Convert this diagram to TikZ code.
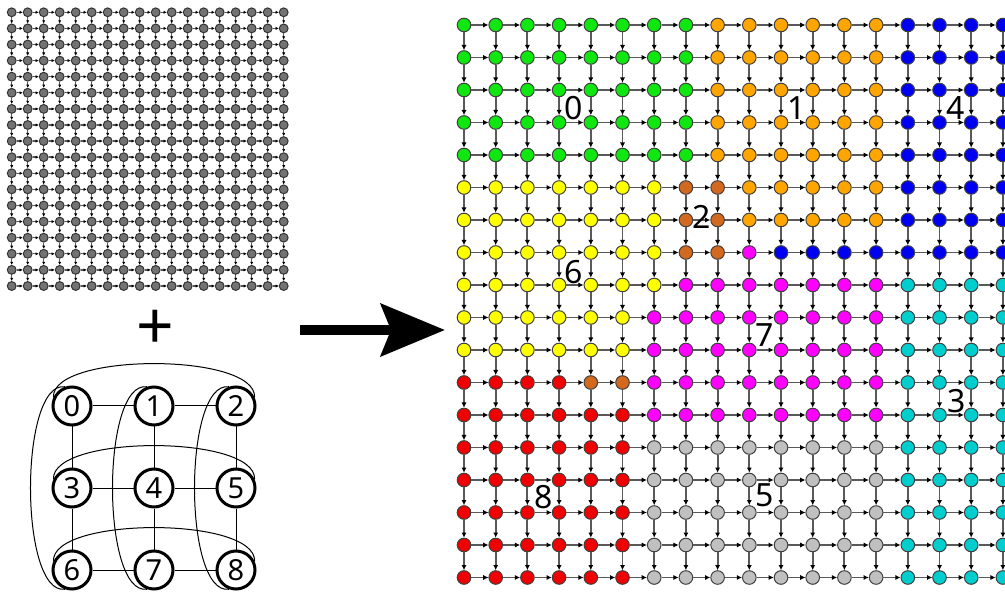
\documentclass[tikz,border=0pt]{standalone}
\usepackage{fontspec}
\setmainfont{Noto Sans}
\usetikzlibrary{arrows.meta}

\definecolor{cG}{HTML}{10E610}
\definecolor{cO}{HTML}{FFA500}
\definecolor{cB}{HTML}{0000F0}
\definecolor{cY}{HTML}{FFFF00}
\definecolor{cK}{HTML}{D2691E}
\definecolor{cM}{HTML}{FF00FF}
\definecolor{cC}{HTML}{00CDCD}
\definecolor{cR}{HTML}{F00000}
\definecolor{cS}{HTML}{C0C0C0}

\begin{document}
\begin{tikzpicture}[x=0.5pt,y=-0.5pt,
  snode/.style={circle,draw=black!80,fill=black!55,line width=0.5pt,inner sep=0pt,minimum size=4.4pt},
  sedge/.style={draw=black!65,line width=0.7pt,-{Latex[length=1.6pt,width=1.6pt,color=black]}},
  bnode/.style={circle,draw=black!75,line width=0.5pt,inner sep=0pt,minimum size=6.8pt},
  gedge/.style={draw=black!65,line width=0.95pt,-{Latex[length=2.6pt,width=2.6pt,color=black]}},
  plabel/.style={font=\fontsize{16}{16}\selectfont},
  tnode/.style={circle,draw,line width=1.5pt,inner sep=0pt,minimum size=19pt,font=\fontsize{14.5}{14.5}\selectfont},
  tedge/.style={line width=0.5pt}]
  \useasboundingbox (0,0) rectangle (1005,592);
  \clip (0,0) rectangle (1005,592);

  % plain mesh
  \foreach \r in {0,...,17}
    \foreach \c in {0,...,17}
      \node[snode] (s-\r-\c) at (11.7+16*\c,12.3+16.1*\r) {};
  \foreach \r in {0,...,17}
    \foreach \c [count=\n] in {0,...,16} {
      \draw[sedge] (s-\r-\c) -- (s-\r-\n);
      \draw[sedge] (s-\c-\r) -- (s-\n-\r);
    }

  % mapped mesh, one list per row
  \foreach \row [count=\r from 0] in {
      {G,G,G,G,G,G,G,G,O,O,O,O,O,O,B,B,B,B},
      {G,G,G,G,G,G,G,G,O,O,O,O,O,O,B,B,B,B},
      {G,G,G,G,G,G,G,G,O,O,O,O,O,O,B,B,B,B},
      {G,G,G,G,G,G,G,G,O,O,O,O,O,O,B,B,B,B},
      {G,G,G,G,G,G,G,G,O,O,O,O,O,O,B,B,B,B},
      {Y,Y,Y,Y,Y,Y,Y,K,K,O,O,O,O,O,B,B,B,B},
      {Y,Y,Y,Y,Y,Y,Y,K,K,O,O,O,O,O,B,B,B,B},
      {Y,Y,Y,Y,Y,Y,Y,K,K,M,B,B,B,B,B,B,B,B},
      {Y,Y,Y,Y,Y,Y,Y,M,M,M,M,M,M,M,C,C,C,C},
      {Y,Y,Y,Y,Y,Y,M,M,M,M,M,M,M,M,C,C,C,C},
      {Y,Y,Y,Y,Y,Y,M,M,M,M,M,M,M,M,C,C,C,C},
      {R,R,R,R,K,K,M,M,M,M,M,M,M,M,C,C,C,C},
      {R,R,R,R,R,R,M,M,M,M,M,M,M,M,C,C,C,C},
      {R,R,R,R,R,R,S,S,S,S,S,S,S,S,C,C,C,C},
      {R,R,R,R,R,R,S,S,S,S,S,S,S,S,C,C,C,C},
      {R,R,R,R,R,R,S,S,S,S,S,S,S,S,C,C,C,C},
      {R,R,R,R,R,R,S,S,S,S,S,S,S,S,C,C,C,C},
      {R,R,R,R,R,R,S,S,S,S,S,S,S,S,C,C,C,C}}
    \foreach \cl [count=\c from 0] in \row
      \node[bnode,fill=c\cl] (b-\r-\c) at (464+31.7*\c,25+32.5*\r) {};
  \foreach \r in {0,...,17}
    \foreach \c [count=\n] in {0,...,16} {
      \draw[gedge] (b-\r-\c) -- (b-\r-\n);
      \draw[gedge] (b-\c-\r) -- (b-\n-\r);
    }

  \node[plabel] (l0) at (574,108) {0};
  \node[plabel] (l1) at (797,108) {1};
  \node[plabel] (l4) at (956,108) {4};
  \node[plabel] (l2) at (702,217) {2};
  \node[plabel] (l6) at (574,272) {6};
  \node[plabel] (l7) at (765,335) {7};
  \node[plabel] (l3) at (957,401) {3};
  \node[plabel] (l8) at (544,497) {8};
  \node[plabel] (l5) at (765,495) {5};

  % plus and big arrow
  \node[font=\fontsize{33}{33}\selectfont\bfseries] (plus) at (155,330) {+};
  \coordinate (arrS) at (300,330);
  \coordinate (arrE) at (445,330);
  \draw[line width=5pt,-{Stealth[length=32pt,width=26pt,inset=5pt]}] (arrS) -- (arrE);

  % 3x3 torus
  \foreach \i in {0,...,8}
    \node[tnode] (t\i) at ({72+82*mod(\i,3)},{406+82*div(\i,3)}) {\i};
  \foreach \a/\b in {0/1,1/2,3/4,4/5,6/7,7/8,0/3,3/6,1/4,4/7,2/5,5/8}
    \draw[tedge] (t\a) -- (t\b);
  \foreach \a/\b in {0/2,3/5,6/8}
    \draw[tedge] (t\a.155) .. controls +(-2,-45) and +(2,-45) .. (t\b.25);
  \foreach \a/\b in {0/6,1/7,2/8}
    \draw[tedge] (t\a.110) .. controls +(-46,-6) and +(-46,6) .. (t\b.250);
\end{tikzpicture}
\end{document}
